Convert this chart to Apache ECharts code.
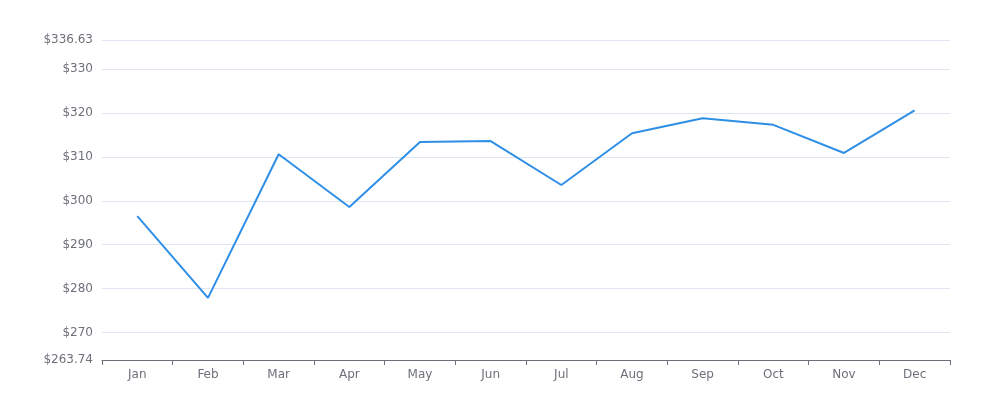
<!DOCTYPE html>
<html>
<head>
<meta charset="utf-8">
<script src="https://cdn.jsdelivr.net/npm/echarts@6/dist/echarts.min.js"></script>
<style>html,body{margin:0;padding:0;background:#fff}#c{width:1000px;height:400px}</style>
</head>
<body>
<div id="c"></div>
<script>
const categories = ['Jan','Feb','Mar','Apr','May','Jun','Jul','Aug','Sep','Oct','Nov','Dec'];
const values = [296.5, 277.9, 310.6, 298.6, 313.4, 313.6, 303.6, 315.4, 318.8, 317.3, 310.9, 320.6];
const yMin = 263.74;
const yMax = 336.63;

const chart = echarts.init(document.getElementById('c'));
chart.setOption({
  animation: false,
  grid: { left: 102, right: 50, top: 40, bottom: 40 },
  xAxis: {
    type: 'category',
    data: categories,
    boundaryGap: true,
    axisLine: { lineStyle: { color: '#6E7079' } },
    axisTick: { show: true, lineStyle: { color: '#6E7079' } },
    axisLabel: { color: '#6E7079', fontFamily: 'DejaVu Sans', fontSize: 12, margin: 9 }
  },
  yAxis: {
    type: 'value',
    min: yMin,
    max: yMax,
    splitNumber: 7,
    axisLine: { show: false },
    axisTick: { show: false },
    splitLine: { lineStyle: { color: '#E0E6F1' } },
    axisLabel: {
      color: '#6E7079', fontFamily: 'DejaVu Sans', fontSize: 12, margin: 9,
      padding: [3, 0, 0, 0],
      formatter: v => '$' + (Math.round(v * 100) / 100)
    }
  },
  series: [{
    type: 'line',
    data: values,
    showSymbol: false,
    symbol: 'none',
    lineStyle: { color: '#2f8fe6', width: 2 },
    itemStyle: { color: '#2f8fe6' }
  }]
});
</script>
</body>
</html>
